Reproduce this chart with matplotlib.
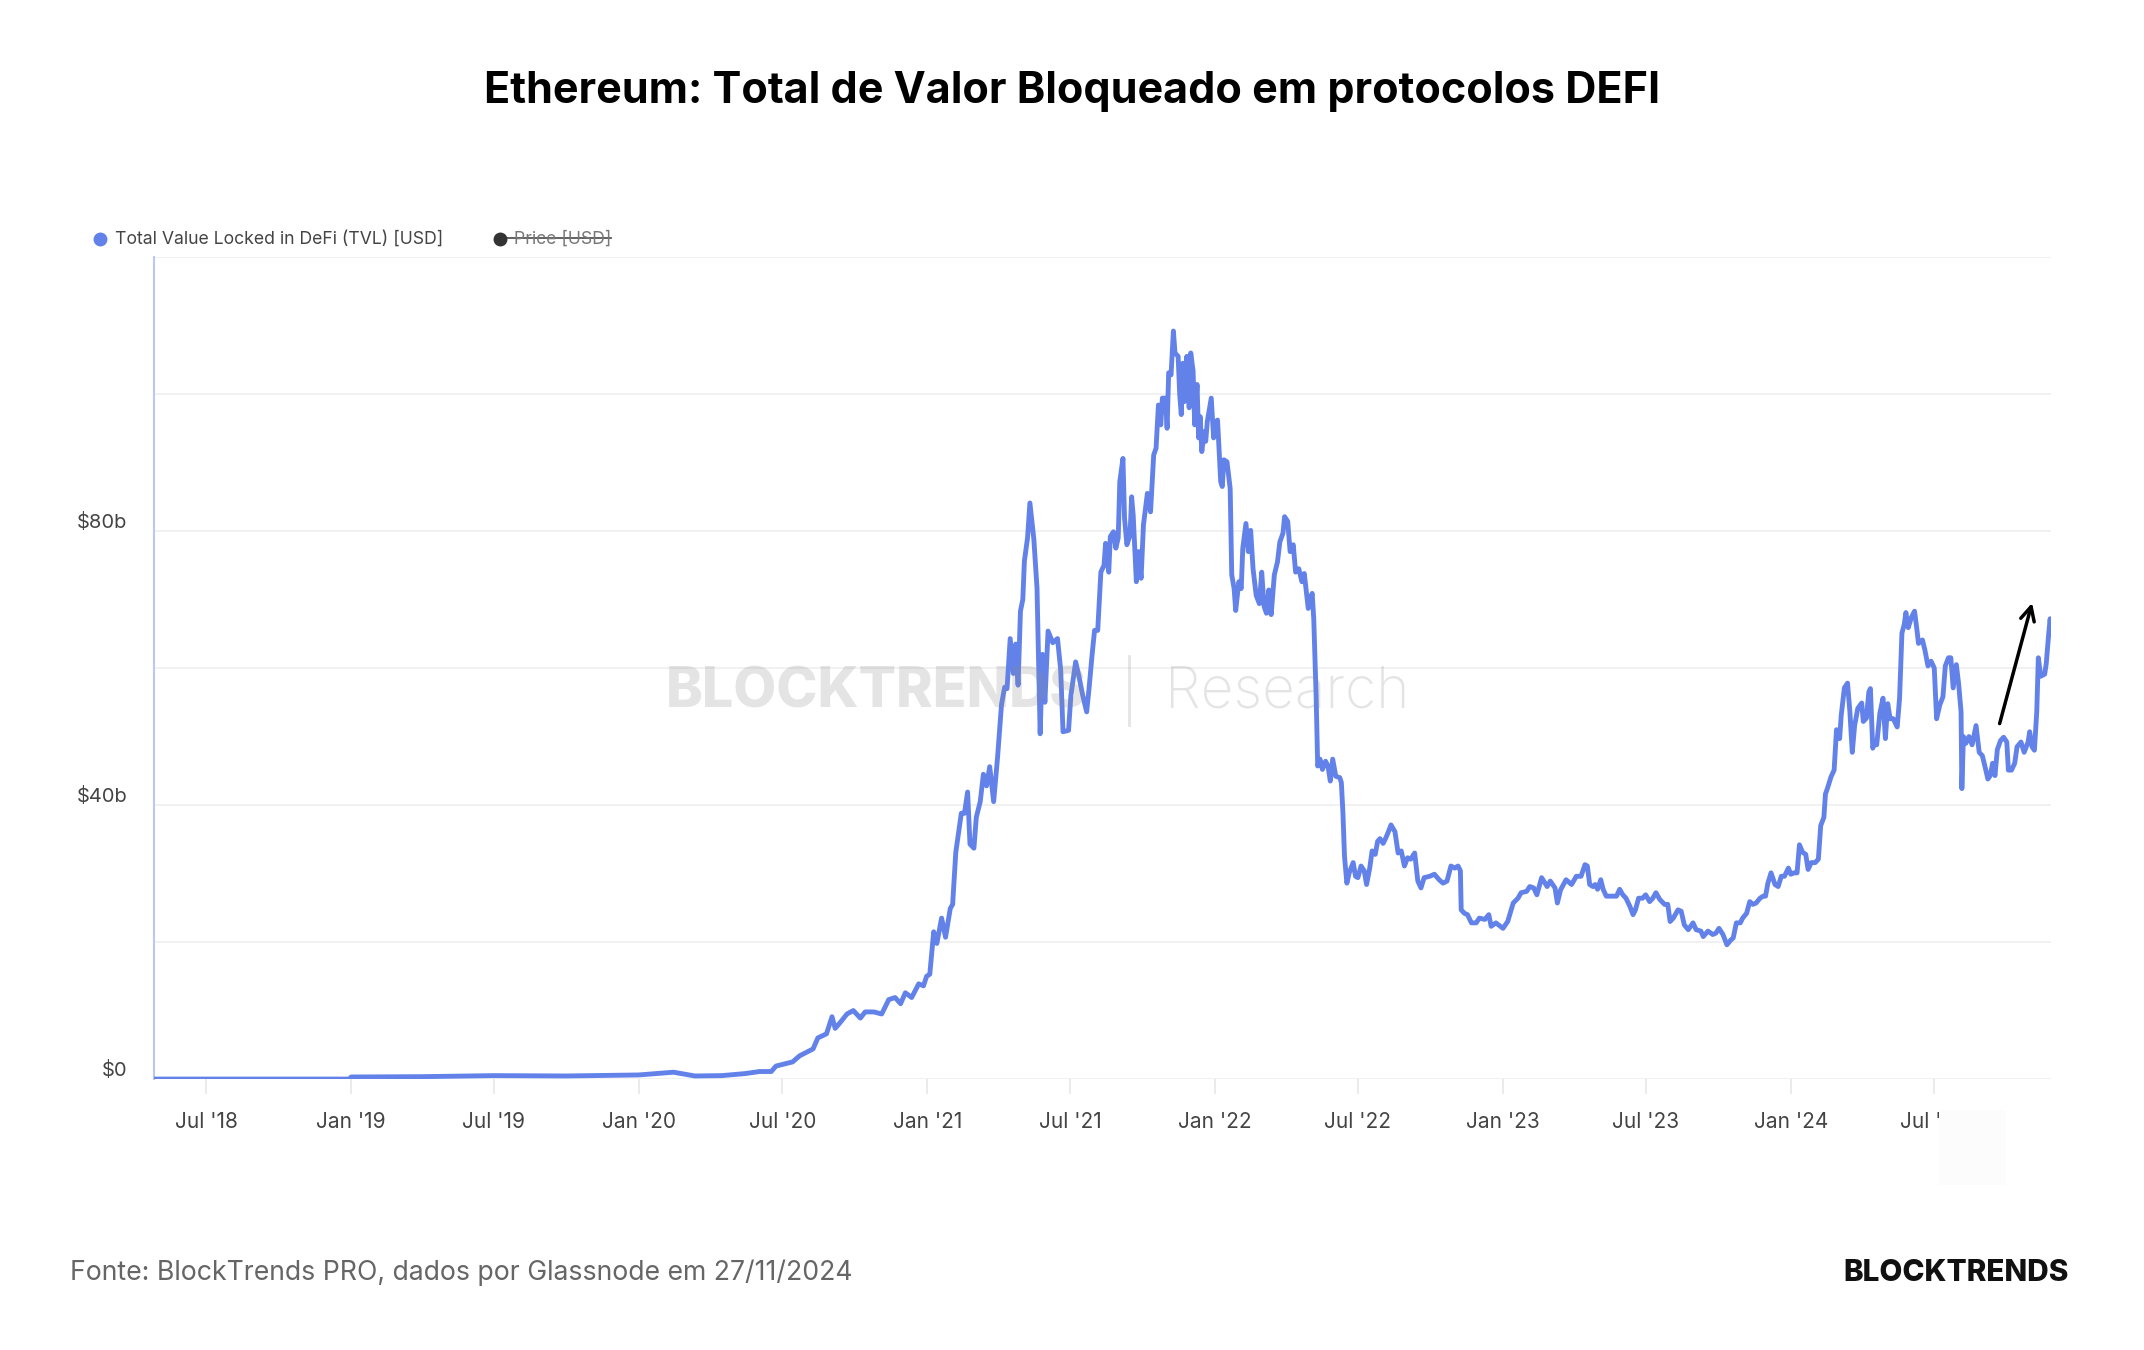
import matplotlib
matplotlib.use("Agg")
import matplotlib.pyplot as plt
import matplotlib.dates as mdates
import matplotlib.transforms as mtransforms
from matplotlib.lines import Line2D
from matplotlib.patches import Rectangle
import pandas as pd

plt.rcParams['font.family'] = ['Inter', 'DejaVu Sans']

# TVL em bilhoes de USD
dates = [
    "2018-04-26", "2018-12-31", "2019-01-01", "2019-04-01", "2019-07-01", "2019-10-01",
    "2020-01-01", "2020-02-14", "2020-03-12", "2020-04-15", "2020-05-15",
    "2020-06-02", "2020-06-17", "2020-06-23", "2020-07-14", "2020-07-23", "2020-08-09",
    "2020-08-15", "2020-08-26", "2020-09-02", "2020-09-06", "2020-09-12", "2020-09-21",
    "2020-09-29", "2020-10-08", "2020-10-14", "2020-10-25", "2020-11-04", "2020-11-13",
    "2020-11-21", "2020-11-28", "2020-12-04", "2020-12-12", "2020-12-21", "2020-12-27",
    "2020-12-31", "2021-01-04", "2021-01-09", "2021-01-13", "2021-01-19", "2021-01-24",
    "2021-01-30", "2021-02-02", "2021-02-06", "2021-02-13", "2021-02-17", "2021-02-21",
    "2021-02-24", "2021-03-01", "2021-03-04", "2021-03-09", "2021-03-13", "2021-03-17",
    "2021-03-21", "2021-03-26", "2021-03-31", "2021-04-05", "2021-04-09", "2021-04-12",
    "2021-04-16", "2021-04-20", "2021-04-23", "2021-04-26", "2021-04-29", "2021-05-02",
    "2021-05-04", "2021-05-08", "2021-05-11", "2021-05-16", "2021-05-20", "2021-05-22",
    "2021-05-24", "2021-05-27", "2021-05-30", "2021-06-03", "2021-06-09", "2021-06-15",
    "2021-06-19", "2021-06-22", "2021-06-29", "2021-07-02", "2021-07-08", "2021-07-12",
    "2021-07-17", "2021-07-22", "2021-07-25", "2021-07-29", "2021-08-01", "2021-08-05",
    "2021-08-09", "2021-08-13", "2021-08-15", "2021-08-19", "2021-08-21", "2021-08-25",
    "2021-08-28", "2021-08-31", "2021-09-02", "2021-09-06", "2021-09-08", "2021-09-11",
    "2021-09-15", "2021-09-17", "2021-09-19", "2021-09-23", "2021-09-26", "2021-09-29",
    "2021-10-02", "2021-10-07", "2021-10-11", "2021-10-15", "2021-10-18", "2021-10-21",
    "2021-10-24", "2021-10-26", "2021-10-30", "2021-11-01", "2021-11-03", "2021-11-06",
    "2021-11-09", "2021-11-11", "2021-11-15", "2021-11-17", "2021-11-19", "2021-11-21",
    "2021-11-23", "2021-11-26", "2021-11-29", "2021-12-01", "2021-12-04", "2021-12-06",
    "2021-12-09", "2021-12-11", "2021-12-13", "2021-12-15", "2021-12-18", "2021-12-20",
    "2021-12-22", "2021-12-27", "2021-12-30", "2022-01-02", "2022-01-04", "2022-01-08",
    "2022-01-10", "2022-01-12", "2022-01-16", "2022-01-20", "2022-01-22", "2022-01-25",
    "2022-01-27", "2022-01-31", "2022-02-03", "2022-02-05", "2022-02-09", "2022-02-12",
    "2022-02-15", "2022-02-18", "2022-02-22", "2022-02-26", "2022-03-01", "2022-03-04",
    "2022-03-07", "2022-03-10", "2022-03-13", "2022-03-17", "2022-03-21", "2022-03-24",
    "2022-03-28", "2022-03-30", "2022-04-03", "2022-04-06", "2022-04-10", "2022-04-13",
    "2022-04-17", "2022-04-21", "2022-04-24", "2022-04-29", "2022-05-02", "2022-05-04",
    "2022-05-06", "2022-05-09", "2022-05-11", "2022-05-14", "2022-05-17", "2022-05-21",
    "2022-05-24", "2022-05-27", "2022-05-30", "2022-06-03", "2022-06-08", "2022-06-10",
    "2022-06-12", "2022-06-14", "2022-06-17", "2022-06-20", "2022-06-25", "2022-06-28",
    "2022-07-01", "2022-07-05", "2022-07-09", "2022-07-12", "2022-07-16", "2022-07-19",
    "2022-07-23", "2022-07-26", "2022-07-29", "2022-08-02", "2022-08-05", "2022-08-08",
    "2022-08-12", "2022-08-17", "2022-08-21", "2022-08-25", "2022-08-29", "2022-09-02",
    "2022-09-06", "2022-09-11", "2022-09-15", "2022-09-19", "2022-09-23", "2022-09-30",
    "2022-10-06", "2022-10-12", "2022-10-17", "2022-10-22", "2022-10-27", "2022-11-01",
    "2022-11-05", "2022-11-08", "2022-11-09", "2022-11-13", "2022-11-17", "2022-11-22",
    "2022-11-28", "2022-12-02", "2022-12-09", "2022-12-14", "2022-12-17", "2022-12-23",
    "2023-01-01", "2023-01-07", "2023-01-14", "2023-01-20", "2023-01-24", "2023-01-31",
    "2023-02-04", "2023-02-09", "2023-02-13", "2023-02-19", "2023-02-26", "2023-03-02",
    "2023-03-08", "2023-03-11", "2023-03-15", "2023-03-22", "2023-03-29", "2023-04-04",
    "2023-04-10", "2023-04-15", "2023-04-18", "2023-04-21", "2023-04-25", "2023-04-28",
    "2023-05-01", "2023-05-05", "2023-05-08", "2023-05-12", "2023-05-18", "2023-05-25",
    "2023-05-29", "2023-06-02", "2023-06-06", "2023-06-11", "2023-06-15", "2023-06-18",
    "2023-06-22", "2023-06-27", "2023-07-01", "2023-07-06", "2023-07-10", "2023-07-14",
    "2023-07-19", "2023-07-25", "2023-07-29", "2023-08-01", "2023-08-05", "2023-08-11",
    "2023-08-15", "2023-08-19", "2023-08-24", "2023-08-30", "2023-09-03", "2023-09-09",
    "2023-09-12", "2023-09-18", "2023-09-24", "2023-09-28", "2023-10-02", "2023-10-07",
    "2023-10-12", "2023-10-17", "2023-10-20", "2023-10-24", "2023-10-29", "2023-11-01",
    "2023-11-06", "2023-11-10", "2023-11-14", "2023-11-18", "2023-11-23", "2023-11-27",
    "2023-11-30", "2023-12-03", "2023-12-07", "2023-12-12", "2023-12-16", "2023-12-20",
    "2023-12-24", "2023-12-29", "2024-01-01", "2024-01-05", "2024-01-09", "2024-01-12",
    "2024-01-16", "2024-01-20", "2024-01-23", "2024-01-27", "2024-02-01", "2024-02-05",
    "2024-02-08", "2024-02-12", "2024-02-14", "2024-02-17", "2024-02-21", "2024-02-25",
    "2024-02-28", "2024-03-03", "2024-03-05", "2024-03-09", "2024-03-13", "2024-03-16",
    "2024-03-19", "2024-03-22", "2024-03-26", "2024-03-31", "2024-04-02", "2024-04-06",
    "2024-04-09", "2024-04-11", "2024-04-14", "2024-04-17", "2024-04-19", "2024-04-23",
    "2024-04-27", "2024-04-30", "2024-05-03", "2024-05-06", "2024-05-10", "2024-05-15",
    "2024-05-18", "2024-05-21", "2024-05-24", "2024-05-26", "2024-05-29", "2024-06-02",
    "2024-06-06", "2024-06-09", "2024-06-11", "2024-06-16", "2024-06-19", "2024-06-23",
    "2024-06-27", "2024-07-01", "2024-07-04", "2024-07-08", "2024-07-12", "2024-07-15",
    "2024-07-19", "2024-07-22", "2024-07-25", "2024-07-29", "2024-08-01", "2024-08-04",
    "2024-08-05", "2024-08-07", "2024-08-10", "2024-08-14", "2024-08-18", "2024-08-23",
    "2024-08-27", "2024-08-31", "2024-09-04", "2024-09-07", "2024-09-10", "2024-09-13",
    "2024-09-16", "2024-09-19", "2024-09-23", "2024-09-27", "2024-10-01", "2024-10-03",
    "2024-10-07", "2024-10-11", "2024-10-14", "2024-10-19", "2024-10-23", "2024-10-28",
    "2024-10-30", "2024-11-02", "2024-11-05", "2024-11-08", "2024-11-10", "2024-11-13",
    "2024-11-18", "2024-11-20", "2024-11-23", "2024-11-25", "2024-11-26",
]
tvl = [
    0.0, 0.0, 0.3, 0.35, 0.5, 0.45,
    0.6, 1.0, 0.45, 0.5, 0.8,
    1.1, 1.1, 1.9, 2.5, 3.4, 4.4,
    6.0, 6.6, 9.1, 7.4, 8.2, 9.5,
    10.0, 8.9, 9.8, 9.8, 9.5, 11.6,
    11.9, 11.0, 12.6, 11.9, 13.9, 13.6,
    15.0, 15.3, 21.5, 19.8, 23.5, 20.7,
    24.9, 25.5, 33.1, 38.8, 38.8, 41.9,
    34.3, 33.7, 38.2, 40.5, 44.5, 42.8,
    45.6, 40.5, 47.0, 54.7, 57.2, 57.0,
    64.3, 59.2, 63.5, 57.5, 68.3, 70.0,
    75.6, 79.0, 84.1, 78.8, 71.7, 60.9,
    50.4, 62.0, 55.0, 65.4, 63.7, 64.3,
    59.8, 50.7, 50.9, 56.0, 60.9, 58.9,
    56.0, 53.6, 57.0, 62.1, 65.5, 65.5,
    74.0, 75.0, 78.2, 74.0, 79.2, 79.9,
    77.5, 79.0, 87.2, 90.6, 81.9, 78.0,
    79.4, 85.0, 82.3, 72.6, 77.0, 73.1,
    80.9, 85.5, 82.8, 91.1, 92.1, 98.4,
    95.5, 99.4, 99.4, 95.0, 103.1, 102.8,
    109.2, 106.0, 105.5, 99.9, 97.0, 104.5,
    98.9, 105.5, 98.0, 106.0, 103.3, 95.5,
    101.4, 93.6, 96.7, 91.6, 94.5, 93.1,
    96.0, 99.4, 93.6, 96.0, 96.2, 87.2,
    86.5, 90.4, 90.1, 86.2, 73.6, 71.6,
    68.4, 72.6, 71.6, 77.5, 81.1, 77.0,
    80.1, 74.5, 70.6, 69.4, 74.0, 69.0,
    68.0, 71.4, 67.8, 73.6, 75.5, 78.4,
    79.7, 82.1, 81.4, 77.0, 78.0, 74.0,
    74.5, 72.6, 73.8, 68.7, 70.1, 70.9,
    67.2, 56.0, 45.7, 46.7, 45.2, 46.4,
    45.7, 43.5, 46.7, 44.2, 44.0, 43.3,
    38.9, 32.5, 28.6, 30.1, 31.6, 29.6,
    29.4, 31.1, 30.4, 28.4, 30.8, 33.3,
    32.8, 34.7, 35.1, 34.4, 35.1, 35.9,
    37.1, 36.1, 33.0, 33.3, 31.1, 32.3,
    32.1, 33.0, 28.9, 27.9, 29.4, 29.6,
    29.9, 29.1, 28.6, 28.9, 31.1, 30.8,
    31.1, 30.4, 24.7, 24.2, 24.0, 22.8,
    22.8, 23.5, 23.3, 24.0, 22.3, 22.8,
    22.0, 23.0, 25.7, 26.4, 27.2, 27.4,
    28.1, 27.9, 26.9, 29.4, 28.1, 28.9,
    27.9, 25.7, 27.6, 29.1, 28.4, 29.6,
    29.6, 31.3, 31.1, 28.4, 28.1, 28.4,
    27.7, 29.1, 27.7, 26.7, 26.7, 26.7,
    27.7, 26.9, 26.4, 25.2, 24.0, 24.7,
    26.4, 26.4, 26.9, 25.9, 26.4, 27.2,
    26.2, 25.5, 25.5, 23.0, 23.5, 24.7,
    24.5, 22.5, 21.8, 22.8, 21.8, 21.6,
    20.8, 21.6, 21.1, 21.3, 22.0, 21.1,
    19.6, 20.3, 20.6, 22.8, 22.8, 23.5,
    24.2, 25.9, 25.5, 25.7, 26.4, 26.7,
    26.7, 28.6, 30.1, 28.4, 28.1, 29.6,
    29.6, 30.8, 29.9, 30.1, 30.1, 34.2,
    33.1, 32.8, 30.6, 31.6, 31.6, 32.1,
    37.0, 38.2, 41.6, 42.6, 44.1, 45.1,
    51.0, 49.7, 53.1, 57.1, 57.8, 53.6,
    47.7, 51.6, 54.1, 54.9, 52.2, 52.7,
    56.5, 57.0, 48.3, 49.3, 48.8, 53.4,
    55.6, 49.7, 54.8, 52.6, 52.6, 51.4,
    55.6, 65.1, 66.4, 68.1, 65.9, 67.4,
    68.3, 65.6, 63.6, 64.1, 62.7, 60.3,
    61.0, 60.0, 52.6, 54.6, 55.8, 60.3,
    61.5, 61.5, 57.1, 60.5, 57.6, 53.6,
    42.4, 50.0, 49.0, 50.0, 48.8, 51.6,
    47.7, 47.2, 45.3, 43.8, 44.3, 46.1,
    44.3, 48.1, 49.4, 49.9, 49.2, 45.1,
    45.1, 46.1, 48.5, 49.2, 47.7, 49.2,
    50.7, 48.5, 48.0, 53.6, 61.5, 58.8,
    59.1, 60.6, 64.8, 67.2, 65.0,
]

x_start, x_end = "2018-04-26", "2024-11-26"
y_ticks = [0, 20, 40, 60, 80, 100, 120]
y_labels = {0: "$0", 40: "$40b", 80: "$80b"}
arrow_from = ("2024-09-21", 51.5)
arrow_to = ("2024-11-03", 69.9)

title = "Ethereum: Total de Valor Bloqueado em protocolos DEFI"
source = "Fonte: BlockTrends PRO, dados por Glassnode em 27/11/2024"

line_color = "#6282ea"

fig = plt.figure(figsize=(21.44, 13.5), dpi=100)
ax = fig.add_axes([0.0718, 0.2007, 0.8848, 0.6089])

x = pd.to_datetime(dates)
ax.plot(x, tvl, color=line_color, lw=3.5, solid_joinstyle="round", zorder=3)

ax.set_xlim(pd.Timestamp(x_start), pd.Timestamp(x_end))
ax.set_ylim(0, 120)

ax.set_yticks(y_ticks)
ax.set_yticklabels([y_labels.get(t, "") for t in y_ticks])
ax.grid(axis="y", color="#efefef", lw=1.2, zorder=0)
ax.tick_params(axis="y", length=0, pad=19, labelsize=14.5, labelcolor="#444444")
offset = mtransforms.ScaledTranslation(0, 0.11, fig.dpi_scale_trans)
for lab in ax.get_yticklabels():
    lab.set_transform(lab.get_transform() + offset)

ax.xaxis.set_major_locator(mdates.MonthLocator(bymonth=[1, 7]))
ax.xaxis.set_major_formatter(mdates.DateFormatter("%b '%y"))
ax.tick_params(axis="x", length=11, width=1.2, color="#e8e8e8", pad=13,
               labelsize=15, labelcolor="#444444")

for s in ["top", "right", "bottom"]:
    ax.spines[s].set_visible(False)
ax.spines["left"].set_color("#bcc8f4")
ax.spines["left"].set_linewidth(1.5)

# seta
ax.annotate("", xy=(pd.Timestamp(arrow_to[0]), arrow_to[1]),
            xytext=(pd.Timestamp(arrow_from[0]), arrow_from[1]),
            arrowprops=dict(arrowstyle="->", color="black", lw=2.5,
                            mutation_scale=25), zorder=5)

# marca d'agua
fig.text(0.3106, 0.4874, "BLOCKTRENDS", fontsize=40, fontweight="heavy",
         color="#888888", alpha=0.22, ha="left", va="center", zorder=10)
fig.add_artist(Line2D([0.5266, 0.5266], [0.4630, 0.5141], color="#888888",
                      alpha=0.22, lw=2, transform=fig.transFigure))
fig.text(0.5434, 0.4874, "Research", fontsize=41, fontweight="light",
         color="#888888", alpha=0.22, ha="left", va="center", zorder=10)

# titulo
fig.text(0.5, 0.932, title, fontsize=31, fontweight="bold", color="black",
         ha="center", va="center")

# legenda
fig.add_artist(Line2D([0.0466], [0.823], marker="o", markersize=9,
                      color=line_color, transform=fig.transFigure))
fig.text(0.0536, 0.823, "Total Value Locked in DeFi (TVL) [USD]", fontsize=12.7,
         color="#444444", ha="left", va="center")
price_txt = fig.text(0.2397, 0.823, "Price [USD]", fontsize=12.7,
                     color="#777777", ha="left", va="center")
fig.canvas.draw()
bb = price_txt.get_window_extent().transformed(fig.transFigure.inverted())
fig.add_artist(Line2D([0.2332, bb.x1], [0.8235, 0.8235], color="#555555", lw=1.3,
                      transform=fig.transFigure))
fig.add_artist(Line2D([0.2332], [0.823], marker="o", markersize=9,
                      color="#333333", transform=fig.transFigure))

# caixa que cobre o rotulo
fig.add_artist(Rectangle((0.9044, 0.1222), 0.0313, 0.0556, transform=fig.transFigure,
                         facecolor="#fcfcfc", edgecolor="none", zorder=20))

# rodape
fig.text(0.0326, 0.057, source, fontsize=19.2, color="#666666", ha="left", va="center")
fig.text(0.965, 0.057, "BLOCKTRENDS", fontsize=21.4, fontweight="heavy", color="#111111",
         ha="right", va="center")

fig.savefig("out.png", dpi=100, facecolor="white")
